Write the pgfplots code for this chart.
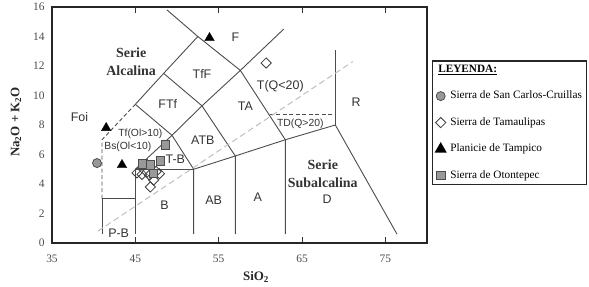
\documentclass[border=0pt]{standalone}
\usepackage{fontspec}
\setmainfont{Liberation Serif}
\newfontfamily\arial{Liberation Sans}
\usepackage{pgfplots}
\pgfplotsset{compat=1.18}
\tikzset{
  fl/.style={font=\arial\fontsize{12.5}{13}\selectfont, text=black!80, inner sep=0pt},
  fs/.style={font=\arial\fontsize{10.4}{11}\selectfont, text=black!80, inner sep=0pt},
  fb/.style={font=\bfseries\fontsize{14}{18}\selectfont, text=black!80, inner sep=0pt, align=center},
}
\begin{document}
\begin{tikzpicture}
\useasboundingbox (0,0) rectangle (589bp,287bp);
\begin{axis}[
  at={(52bp,44bp)}, anchor=south west,
  scale only axis, width=375bp, height=236bp,
  xmin=35, xmax=80, ymin=0, ymax=16,
  xtick={35,45,55,65,75}, ytick={0,2,...,16},
  tick align=inside,
  major tick length=6bp,
  ytick style={draw=none},
  xtick style={black!80, line width=0.8bp},
  axis line style={line width=1.5bp, black!85},
  /pgf/number format/assume math mode=true,
  ticklabel style={font=\fontsize{11.5}{12}\selectfont, text=black!70},
  xticklabel style={yshift=-8bp},
  yticklabel style={xshift=-4bp},
  clip=false,
  legend style={at={(1.013,0.775)}, anchor=north west, draw=black!85, line width=1.5bp,
    font=\fontsize{11.3}{13}\selectfont, legend cell align=left, row sep=13bp, column sep=-9bp,
    nodes={text height=8bp, text depth=2.5bp, inner sep=1.5bp}},
  legend image code/.code={\draw[mark repeat=2,mark phase=2,#1] plot coordinates {(0bp,0bp)(4bp,0bp)(8bp,0bp)};},
]
% field boundaries
\pgfplotsset{fld/.style={no marks, draw=black!70, line width=0.9bp, forget plot}}
\addplot[fld] coordinates {(41,0.6) (41,3) (45,3)};
\addplot[fld] coordinates {(45,0.6) (45,5) (52,5)};
\addplot[fld, dashed, dash pattern=on 4bp off 2.5bp] coordinates {(41,3) (41,7) (45,9.4)};
\addplot[fld] coordinates {(45,9.4) (48.4,11.5) (52.5,14) (48.8,15.8)};
\addplot[fld] coordinates {(52.5,14) (57.6,11.7) (63,7) (63,0.6)};
\addplot[fld] coordinates {(57.6,11.7) (62.8,14.5)};
\addplot[fld] coordinates {(45,5) (49.4,7.3) (53,9.3) (57.6,11.7)};
\addplot[fld] coordinates {(45,9.4) (49.4,7.3) (52,5) (52,0.6)};
\addplot[fld] coordinates {(48.4,11.5) (53,9.3) (57,5.9) (57,0.6)};
\addplot[fld] coordinates {(52,5) (57,5.9) (63,7) (69,8) (76.4,0.6)};
\addplot[fld] coordinates {(69,8) (69,13.1)};
\addplot[fld, dashed, dash pattern=on 4bp off 2.5bp] coordinates {(61.1,8.7) (69,8.7)};
\addplot[no marks, draw=black!25, line width=1bp, dash pattern=on 6bp off 3.5bp, forget plot] coordinates {(40.5,0.8) (71.1,12.3)};
% labels
\node[fl] at (axis cs:57,13.97) {F};
\node[fl] at (axis cs:53,11.46) {TfF};
\node[fl] at (axis cs:48.9,9.42) {FTf};
\node[fl] at (axis cs:58.2,9.29) {TA};
\node[fl] at (axis cs:62.4,10.64) {T(Q<20)};
\node[fl] at (axis cs:38.3,8.54) {Foi};
\node[fs] at (axis cs:45.6,7.4) {Tf(Ol>10)};
\node[fs] at (axis cs:44.1,6.5) {Bs(Ol<10)};
\node[fl] at (axis cs:49.8,5.69) {T-B};
\node[fl] at (axis cs:53.1,6.98) {ATB};
\node[fl] at (axis cs:48.5,2.58) {B};
\node[fl] at (axis cs:54.4,2.92) {AB};
\node[fl] at (axis cs:59.7,3.12) {A};
\node[fl] at (axis cs:43,0.68) {P-B};
\node[fl] at (axis cs:71.5,9.56) {R};
\node[fs] at (axis cs:64.8,8.07) {TD(Q>20)};
\node[fl] at (axis cs:68,2.98) {D};
\node[fb] at (axis cs:44.5,12.27) {Serie\\Alcalina};
\node[fb] at (axis cs:67.5,4.68) {Serie\\Subalcalina};
% axis labels
\node[font=\bfseries\fontsize{13}{14}\selectfont, text=black!85] at (rel axis cs:0.544,-0.144) {SiO\textsubscript{2}};
\node[font=\bfseries\fontsize{13}{14}\selectfont, text=black!85, rotate=90] at (rel axis cs:-0.096,0.513) {Na\textsubscript{2}O + K\textsubscript{2}O};
% legend title
\addlegendimage{empty legend}
\addlegendentry[xshift=-12bp, yshift=-5bp]{\textbf{\underline{LEYENDA:}}}
% data
\addplot[only marks, mark=*, mark size=4.5bp, mark options={fill=black!40, draw=black!70, line width=0.8bp}] coordinates {(40.4,5.42)};
\addlegendentry{Sierra de San Carlos-Cruillas}
\addplot[only marks, mark=square, mark size=3.6bp, mark options={rotate=45, fill=white, draw=black!75, line width=0.8bp}] coordinates {
(60.7,12.2) (45.2,4.75) (45.8,4.65) (46.4,4.8) (46.7,4.6) (47.2,4.27) (47.9,4.7) (46.8,3.8) (47.5,4.85)};
\addlegendentry{Sierra de Tamaulipas}
\addplot[only marks, mark=triangle*, mark size=5.5bp, mark options={fill=black, draw=black}] coordinates {(53.9,13.9) (41.5,7.8) (43.4,5.29)};
\addlegendentry{Planicie de Tampico}
\addplot[only marks, mark=square*, mark size=4.2bp, mark options={fill=black!40, draw=black!70, line width=0.8bp}] coordinates {(48.6,6.64) (48.0,5.56) (45.9,5.36) (46.8,5.29) (47.2,4.7)};
\addlegendentry{Sierra de Otontepec}
\end{axis}
\end{tikzpicture}
\end{document}
